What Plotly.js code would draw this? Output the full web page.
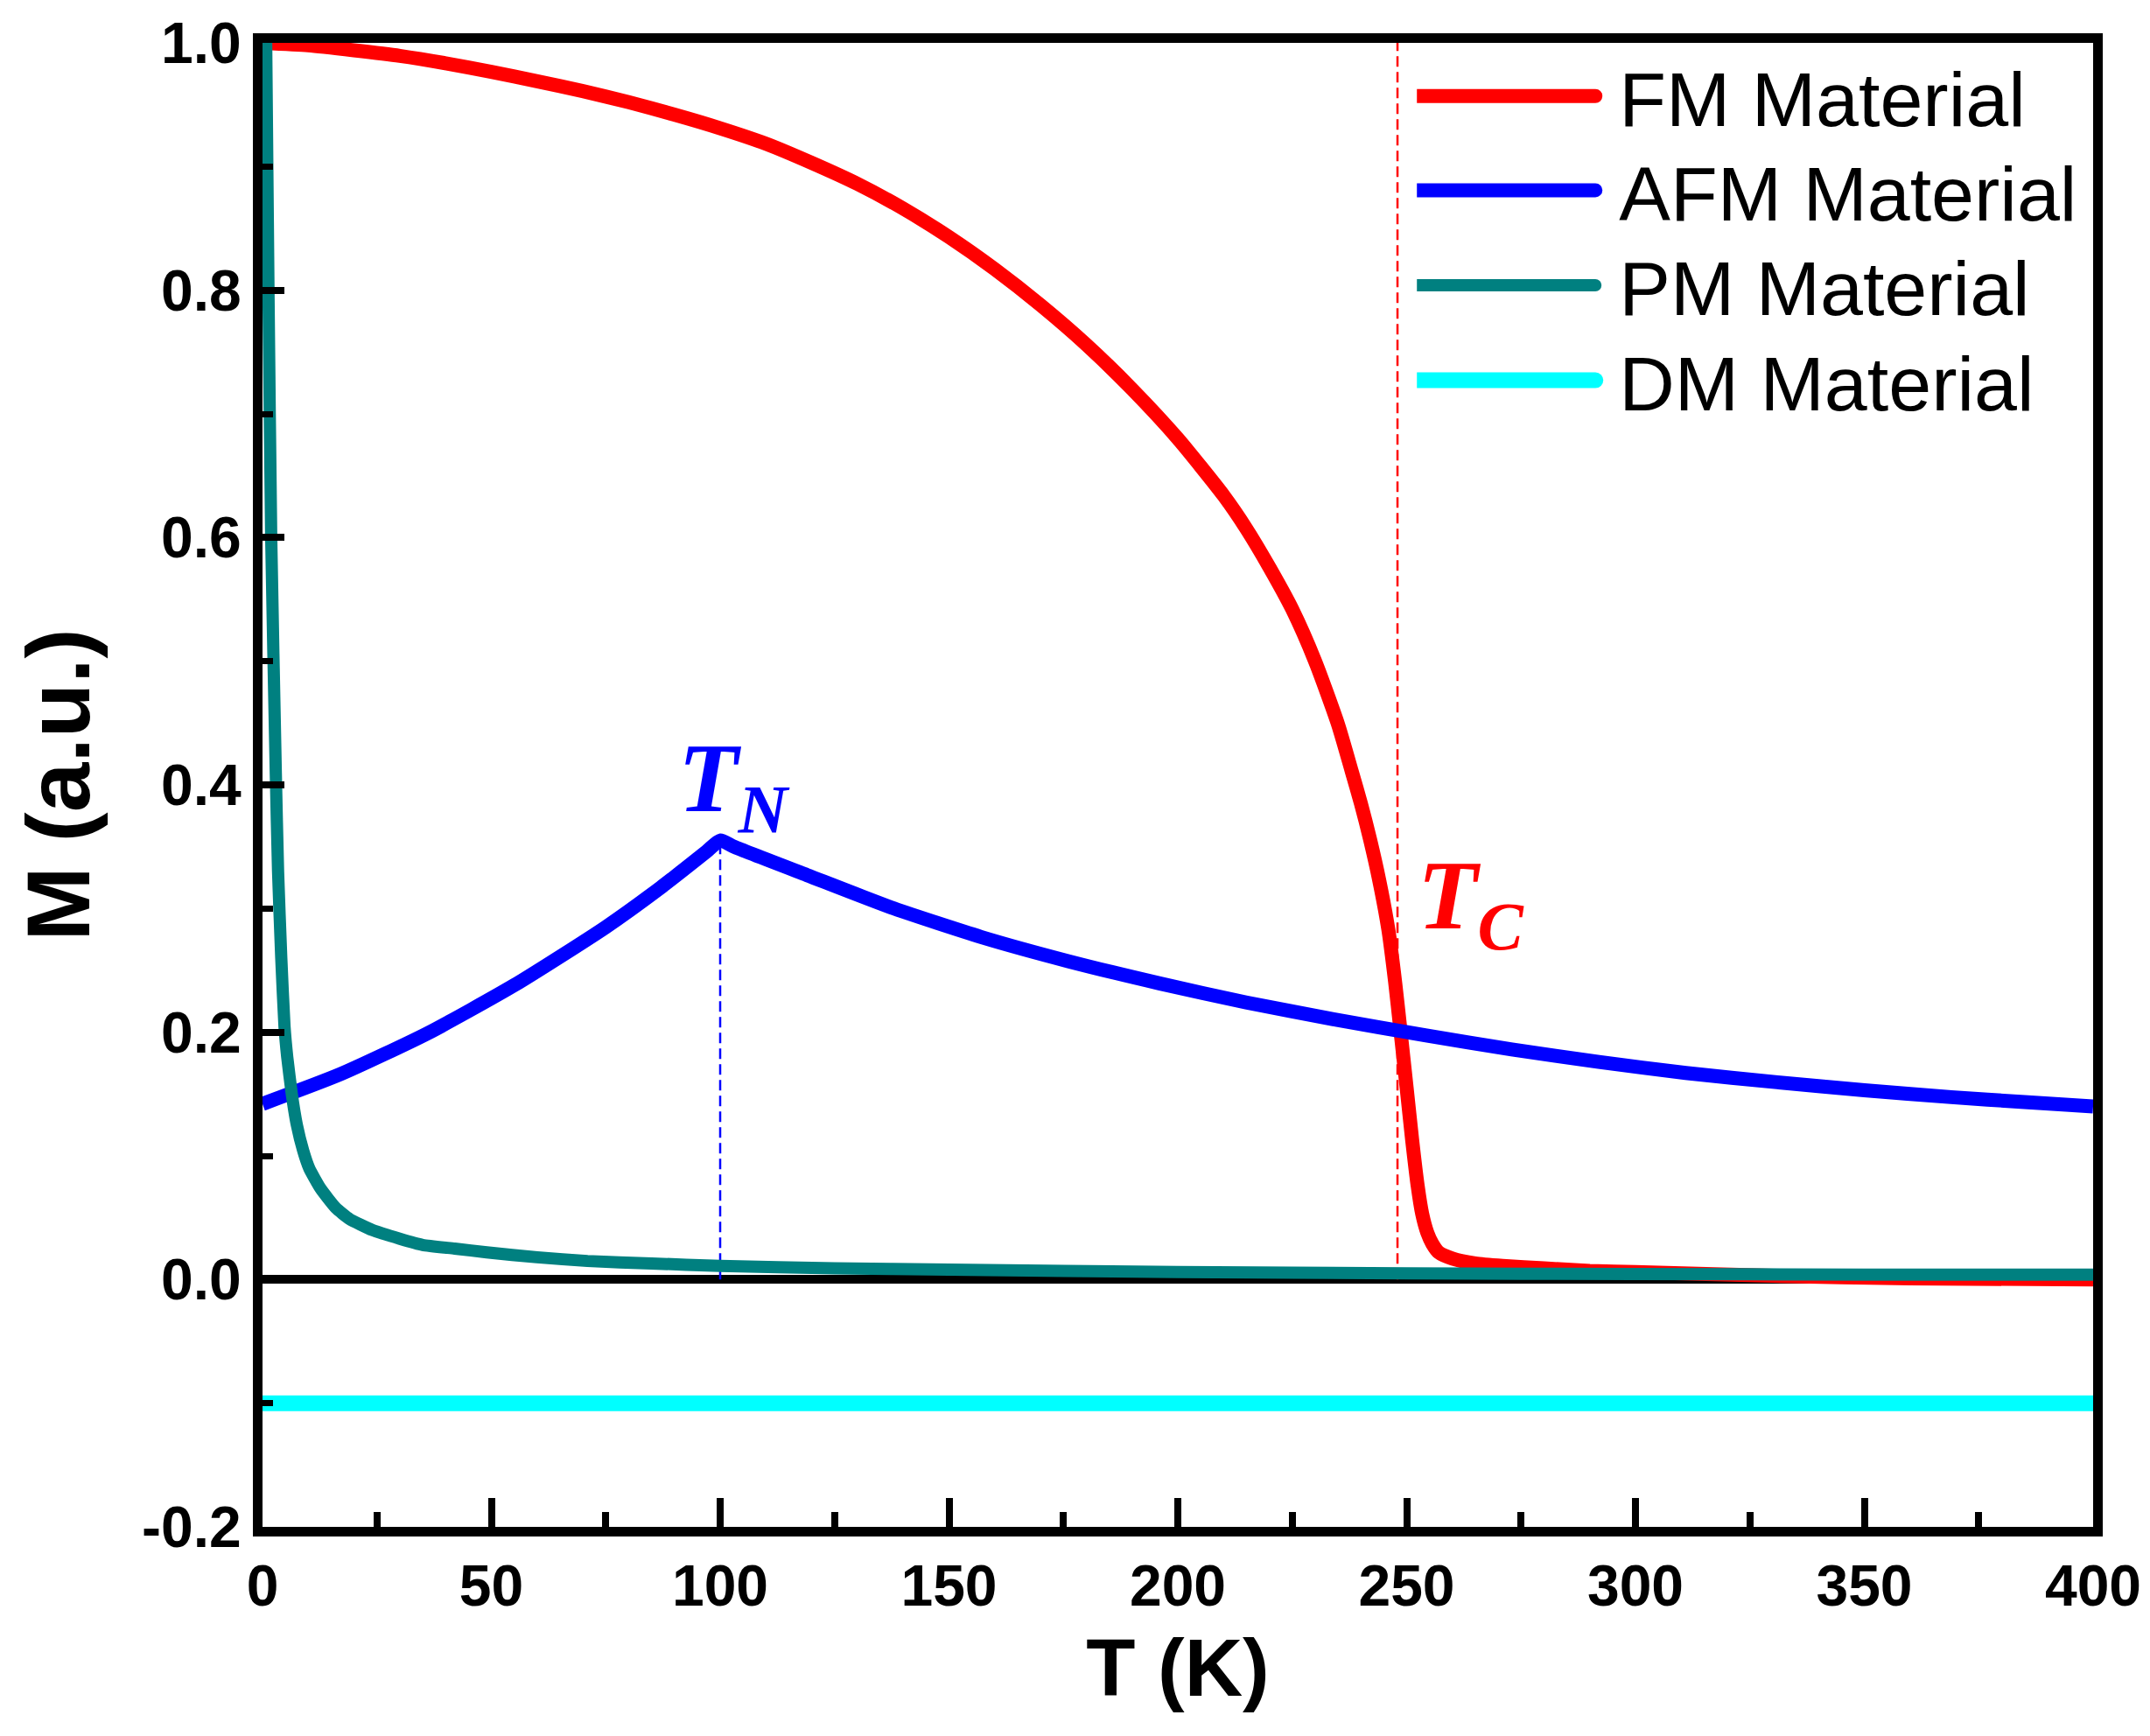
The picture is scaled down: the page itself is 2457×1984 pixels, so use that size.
<!DOCTYPE html>
<html>
<head>
<meta charset="utf-8">
<script src="https://cdn.plot.ly/plotly-3.0.1.min.js"></script>
<style>
  html, body { margin: 0; padding: 0; background: #ffffff; }
  #chart { width: 2457px; height: 1984px; }
</style>
</head>
<body>
<div id="chart"></div>
<script>
// ---- Data ----
const seriesNames = ["FM Material", "AFM Material", "PM Material", "DM Material"];

const tFM = [0, 10, 20, 30, 40, 50, 60, 70, 80, 90, 100, 110, 120, 130, 140, 150, 160, 170, 180, 190, 200, 210, 215, 220, 225, 230, 235, 238, 240, 242, 244, 246, 247.5, 248.6, 250, 251.2, 252.4, 253.4, 254.5, 255.6, 257, 260, 265, 271, 280, 290, 300, 330, 360, 400];
const mFM = [1.0, 0.998, 0.994, 0.9895, 0.9835, 0.9765, 0.969, 0.961, 0.952, 0.942, 0.931, 0.9185, 0.903, 0.886, 0.866, 0.843, 0.817, 0.788, 0.756, 0.720, 0.680, 0.634, 0.607, 0.576, 0.542, 0.500, 0.449, 0.411, 0.385, 0.356, 0.323, 0.283, 0.240, 0.203, 0.155, 0.113, 0.076, 0.053, 0.038, 0.029, 0.022, 0.017, 0.013, 0.011, 0.009, 0.007, 0.006, 0.003, 0.001, 0.0];

const tAFM = [0, 17, 36, 55, 75, 87, 97, 100, 103, 119, 138, 157, 176, 196, 215, 234, 254, 273, 292, 311, 331, 350, 369, 385, 400];
const mAFM = [0.142, 0.166, 0.199, 0.238, 0.285, 0.317, 0.346, 0.355, 0.350, 0.327, 0.300, 0.277, 0.2575, 0.2395, 0.224, 0.2105, 0.1975, 0.186, 0.176, 0.167, 0.1595, 0.153, 0.1475, 0.1435, 0.140];

const tPM = [0.8, 1.3, 1.9, 2.9, 3.4, 4.1, 4.8, 5.4, 6.4, 7.5, 8.9, 10.2, 12.7, 16, 19, 24, 30, 35, 42, 49, 60, 71, 85, 100, 125, 150, 200, 250, 300, 350, 400];
const mPM = [1.0, 0.80, 0.60, 0.41, 0.33, 0.26, 0.205, 0.18, 0.15, 0.125, 0.104, 0.090, 0.0735, 0.058, 0.049, 0.040, 0.033, 0.028, 0.025, 0.022, 0.018, 0.015, 0.013, 0.011, 0.009, 0.008, 0.006, 0.005, 0.0045, 0.004, 0.004];

const tDM = [0, 400];
const mDM = [-0.1, -0.1];

// transition markers
const tCurie = 248;
const tNeel = 100;
const mNeelPeak = 0.355;

// tick definitions
const xTickVals = [0, 50, 100, 150, 200, 250, 300, 350, 400];
const xTickText = ["0", "50", "100", "150", "200", "250", "300", "350", "400"];
const xMinorVals = [25, 75, 125, 175, 225, 275, 325, 375];
const yTickVals = [-0.2, 0.0, 0.2, 0.4, 0.6, 0.8, 1.0];
const yTickText = ["-0.2", "0.0", "0.2", "0.4", "0.6", "0.8", "1.0"];
const yMinorVals = [-0.1, 0.1, 0.3, 0.5, 0.7, 0.9];

const colors = ["#FF0000", "#0000FF", "#008080", "#00FFFF"];
const widths = [16, 16, 14, 18];
const legendIds = ["legend", "legend2", "legend3", "legend4"];
const legendRowsY = [0.964, 0.9005, 0.8365, 0.7725];

// ---- Traces ----
const traces = [
  { x: [tCurie, tCurie], y: [0, 1.0], mode: "lines", showlegend: false, hoverinfo: "skip",
    line: { color: "#FF0000", width: 2.5, dash: "12px,6px" } },
  { x: [tNeel, tNeel], y: [0, mNeelPeak], mode: "lines", showlegend: false, hoverinfo: "skip",
    line: { color: "#0000FF", width: 2.5, dash: "12px,6px" } },
  { x: tFM, y: mFM, name: seriesNames[0], legend: legendIds[0], mode: "lines",
    line: { color: colors[0], width: widths[0], shape: "spline", smoothing: 0.6 } },
  { x: tAFM, y: mAFM, name: seriesNames[1], legend: legendIds[1], mode: "lines",
    line: { color: colors[1], width: widths[1], shape: "spline", smoothing: 0.6 } },
  { x: tPM, y: mPM, name: seriesNames[2], legend: legendIds[2], mode: "lines",
    line: { color: colors[2], width: widths[2], shape: "spline", smoothing: 0.5 } },
  { x: tDM, y: mDM, name: seriesNames[3], legend: legendIds[3], mode: "lines",
    line: { color: colors[3], width: widths[3] } }
];

const fontFamily = "Liberation Sans, Arial, sans-serif";
const tickFont = { family: fontFamily, size: 66, color: "#000000", weight: "bold" };
const legendFont = { family: fontFamily, size: 88, color: "#000000" };

function legendAt(yPaper) {
  return {
    x: 0.6306, y: yPaper, xanchor: "left", yanchor: "middle",
    bgcolor: "rgba(0,0,0,0)", borderwidth: 0, itemwidth: 221, font: legendFont
  };
}

const layout = {
  width: 2457,
  height: 1984,
  paper_bgcolor: "#ffffff",
  plot_bgcolor: "#ffffff",
  margin: { l: 300, r: 65, t: 49, b: 239, pad: 0 },
  showlegend: true,
  xaxis: {
    range: [0, 400],
    tickmode: "array",
    tickvals: xTickVals,
    ticktext: xTickText,
    ticks: "inside",
    ticklen: 33,
    tickwidth: 8,
    tickcolor: "#000000",
    minor: { tickmode: "array", tickvals: xMinorVals, ticks: "inside", ticklen: 17, tickwidth: 8, tickcolor: "#000000", showgrid: false },
    showline: true,
    linewidth: 11,
    linecolor: "#000000",
    mirror: true,
    showgrid: false,
    zeroline: false,
    tickfont: tickFont,
    title: { text: "T (K)", font: { family: fontFamily, size: 92, color: "#000000", weight: "bold" }, standoff: 30 }
  },
  yaxis: {
    range: [-0.2, 1.0],
    tickmode: "array",
    tickvals: yTickVals,
    ticktext: yTickText,
    ticks: "inside",
    ticklen: 25,
    tickwidth: 8,
    tickcolor: "#000000",
    minor: { tickmode: "array", tickvals: yMinorVals, ticks: "inside", ticklen: 12, tickwidth: 7, tickcolor: "#000000", showgrid: false },
    showline: true,
    linewidth: 11,
    linecolor: "#000000",
    mirror: true,
    showgrid: false,
    zeroline: true,
    zerolinewidth: 10,
    zerolinecolor: "#000000",
    tickfont: tickFont,
    title: { text: "M (a.u.)", font: { family: fontFamily, size: 102, color: "#000000", weight: "bold" }, standoff: 30 }
  },
  legend: legendAt(legendRowsY[0]),
  legend2: legendAt(legendRowsY[1]),
  legend3: legendAt(legendRowsY[2]),
  legend4: legendAt(legendRowsY[3]),
  annotations: [
    { x: 103, y: 0.40, xref: "x", yref: "y", text: "T<sub>N</sub>", showarrow: false,
      xanchor: "center", yanchor: "middle",
      font: { family: "Liberation Serif, Times New Roman, serif", size: 112, color: "#0000FF", weight: "bold", style: "italic" } },
    { x: 264, y: 0.305, xref: "x", yref: "y", text: "T<sub>C</sub>", showarrow: false,
      xanchor: "center", yanchor: "middle",
      font: { family: "Liberation Serif, Times New Roman, serif", size: 112, color: "#FF0000", weight: "bold", style: "italic" } }
  ]
};

Plotly.newPlot("chart", traces, layout, { staticPlot: true, displayModeBar: false }).then(function (gd) {
  // Plotly caps legend line widths; restore the trace widths and leave a gap before the text
  gd.querySelectorAll("g.traces").forEach(function (g) {
    const d = g.__data__;
    const tr = d && d[0] && d[0].trace;
    if (!tr || !tr.line) return;
    g.querySelectorAll(".legendlines path").forEach(function (p) {
      p.style.strokeWidth = tr.line.width + "px";
      p.style.strokeLinecap = "round";
      p.setAttribute("transform", "translate(-22,0)");
    });
  });
});
</script>
</body>
</html>
